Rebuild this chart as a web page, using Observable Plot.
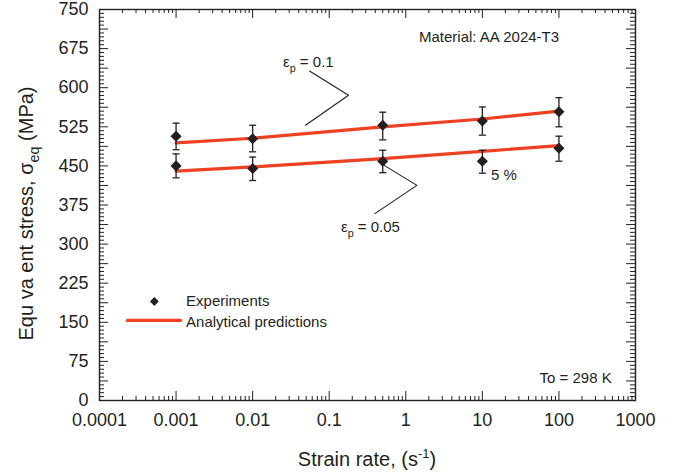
<!DOCTYPE html>
<html><head><meta charset="utf-8">
<script src="https://cdn.jsdelivr.net/npm/d3@7"></script>
<script src="https://cdn.jsdelivr.net/npm/@observablehq/plot@0.6"></script>
<style>
body{margin:0;background:#fff;}
svg{display:block;}
</style>
</head><body><div id="chart"></div>
<script>
// ---- data ----
const strainRates = [0.001, 0.01, 0.5, 10, 100];
const expUpper   = [507, 502, 528, 536, 554];
const expUpperLo = [481, 477, 500, 509, 525];
const expUpperHi = [532, 528, 553, 563, 581];
const expLower   = [450, 445, 459, 459, 484];
const expLowerLo = [427, 422, 437, 436, 459];
const expLowerHi = [473, 467, 480, 480, 507];
const predUpper  = [494, 503, 525, 540, 555];
const predLower  = [440, 448, 464, 478, 489];
const xTickValues = [1e-4, 1e-3, 1e-2, 1e-1, 1, 10, 100, 1000];
const xTickLabels = ["0.0001", "0.001", "0.01", "0.1", "1", "10", "100", "1000"];
const yTickValues = [0, 75, 150, 225, 300, 375, 450, 525, 600, 675, 750];
const yTickLabels = ["0", "75", "150", "225", "300", "375", "450", "525", "600", "675", "750"];

// annotation anchors (data coordinates)
const leaderUpper = [[0.0553, 632], [0.1787, 585.5], [0.049, 528]];
const leaderLower = [[0.522, 451], [1.397, 412.7], [0.395, 358.4]];

// ---- derived ----
const expRows = [
  ...strainRates.map((x, i) => ({x, y: expUpper[i], lo: expUpperLo[i], hi: expUpperHi[i]})),
  ...strainRates.map((x, i) => ({x, y: expLower[i], lo: expLowerLo[i], hi: expLowerHi[i]}))
];
const predRows = [
  ...strainRates.map((x, i) => ({x, y: predUpper[i], s: "u"})),
  ...strainRates.map((x, i) => ({x, y: predLower[i], s: "l"}))
];
const xMinor = [];
for (let e = -4; e < 3; e++) for (let k = 2; k <= 9; k++) xMinor.push(k * Math.pow(10, e));
const yMinor = d3.range(0, 750.01, 7.5).filter(v => Math.abs(v / 37.5 - Math.round(v / 37.5)) > 1e-6);
const yMid = d3.range(0, 750.01, 37.5);

const INK = "#231f20";
const RED = "#ee4123";
const FONT = "'Liberation Sans', Arial, Helvetica, sans-serif";
const W = 676, H = 475, ML = 99, MR = 41, MT = 9, MB = 75;
const FW = W - ML - MR, FH = H - MT - MB;

const capSymbol = {draw(ctx, size) { const w = Math.sqrt(size); ctx.moveTo(-w / 2, 0); ctx.lineTo(w / 2, 0); }};

const chart = Plot.plot({
  width: W, height: H,
  marginLeft: ML, marginRight: MR, marginTop: MT, marginBottom: MB,
  x: {type: "log", domain: [1e-4, 1e3]},
  y: {domain: [0, 750]},
  style: {fontFamily: FONT, color: INK, background: "white", overflow: "visible"},
  marks: [
    // ticks (inside, mirrored)
    Plot.ruleX(xTickValues, {stroke: INK, strokeWidth: 1, insetTop: FH - 9}),
    Plot.ruleX(xMinor, {stroke: INK, strokeWidth: 1, insetTop: FH - 4}),
    Plot.ruleX(xTickValues, {stroke: INK, strokeWidth: 1, insetBottom: FH - 9}),
    Plot.ruleX(xMinor, {stroke: INK, strokeWidth: 1, insetBottom: FH - 4}),
    Plot.ruleY(yMid, {stroke: INK, strokeWidth: 1, insetRight: FW - 9}),
    Plot.ruleY(yMinor, {stroke: INK, strokeWidth: 1, insetRight: FW - 5}),
    Plot.ruleY(yMid, {stroke: INK, strokeWidth: 1, insetLeft: FW - 9}),
    Plot.ruleY(yMinor, {stroke: INK, strokeWidth: 1, insetLeft: FW - 5}),
    Plot.frame({stroke: INK, strokeWidth: 1.4}),
    Plot.axisX(xTickValues, {tickSize: 0, tickPadding: 13, fontSize: 18, label: null,
      tickFormat: d => xTickLabels[xTickValues.indexOf(d)]}),
    Plot.axisY(yTickValues, {tickSize: 0, tickPadding: 11, fontSize: 18, label: null,
      tickFormat: d => yTickLabels[yTickValues.indexOf(d)]}),
    // leader lines
    Plot.line(leaderUpper, {x: d => d[0], y: d => d[1], stroke: INK, strokeWidth: 1.1}),
    Plot.line(leaderLower, {x: d => d[0], y: d => d[1], stroke: INK, strokeWidth: 1.1}),
    // predictions
    Plot.line(predRows, {x: "x", y: "y", z: "s", stroke: RED, strokeWidth: 3.2}),
    // experiments
    Plot.ruleX(expRows, {x: "x", y1: "lo", y2: "hi", stroke: INK, strokeWidth: 1.3}),
    Plot.dot(expRows, {x: "x", y: "lo", symbol: capSymbol, r: 3.95, stroke: INK, strokeWidth: 1.3}),
    Plot.dot(expRows, {x: "x", y: "hi", symbol: capSymbol, r: 3.95, stroke: INK, strokeWidth: 1.3}),
    Plot.dot(expRows, {x: "x", y: "y", symbol: "diamond2", r: 5, fill: INK, stroke: "none"}),
    // legend
    Plot.dot([{x: 5.2e-4, y: 190}], {x: "x", y: "y", symbol: "diamond2", r: 4, fill: INK, stroke: "none"}),
    Plot.line([{x: 2.31e-4, y: 153.6}, {x: 1.14e-3, y: 153.6}], {x: "x", y: "y", stroke: RED, strokeWidth: 3.2})
  ]
});

document.getElementById("chart").appendChild(chart);

const sx = chart.scale("x"), sy = chart.scale("y");
const svg = d3.select(chart);
const g = svg.append("g").attr("fill", INK).attr("font-family", FONT);

// parts: strings (normal) or {sub} / {sup}; baseline is restored on the following part
function addText(x, y, size, parts, anchor = "start", transform = null) {
  const t = g.append("text").attr("x", x).attr("y", y).attr("font-size", size).attr("text-anchor", anchor);
  if (transform) t.attr("transform", transform);
  let shift = 0;
  for (const p of parts) {
    const s = t.append("tspan");
    if (typeof p === "string") {
      s.attr("dy", -shift).text(p);
      shift = 0;
    } else if (p.sub) {
      const d = size * 0.32;
      s.attr("font-size", size * 0.72).attr("dy", d - shift).text(p.sub);
      shift = d;
    } else if (p.sup) {
      const d = -size * 0.42;
      s.attr("font-size", size * 0.65).attr("dy", d - shift).text(p.sup);
      shift = d;
    }
  }
  return t;
}

// annotations
addText(sx.apply(1.51), sy.apply(687), 15, ["Material: AA 2024-T3"]);
addText(sx.apply(0.0253), sy.apply(639), 15, ["\u03B5", {sub: "p"}, " = 0.1"]);
addText(sx.apply(0.1445), sy.apply(322.5), 15, ["\u03B5", {sub: "p"}, " = 0.05"]);
addText(sx.apply(13.2), sy.apply(422), 15, ["5 %"]);
addText(sx.apply(496), sy.apply(32.6), 15, ["To = 298 K"], "end");
addText(sx.apply(1.37e-3), sy.apply(180.5), 15, ["Experiments"]);
addText(sx.apply(1.37e-3), sy.apply(140), 15, ["Analytical predictions"]);

// axis titles
addText(ML + FW / 2, 466, 20, ["Strain rate, (s", {sup: "-1"}, ")"], "middle");
addText(0, 0, 20, ["Equ va ent stress, \u03C3", {sub: "eq"}, " (MPa)"], "middle", `translate(33,${MT + FH / 2 + 9}) rotate(-90)`);
</script>
</body></html>
